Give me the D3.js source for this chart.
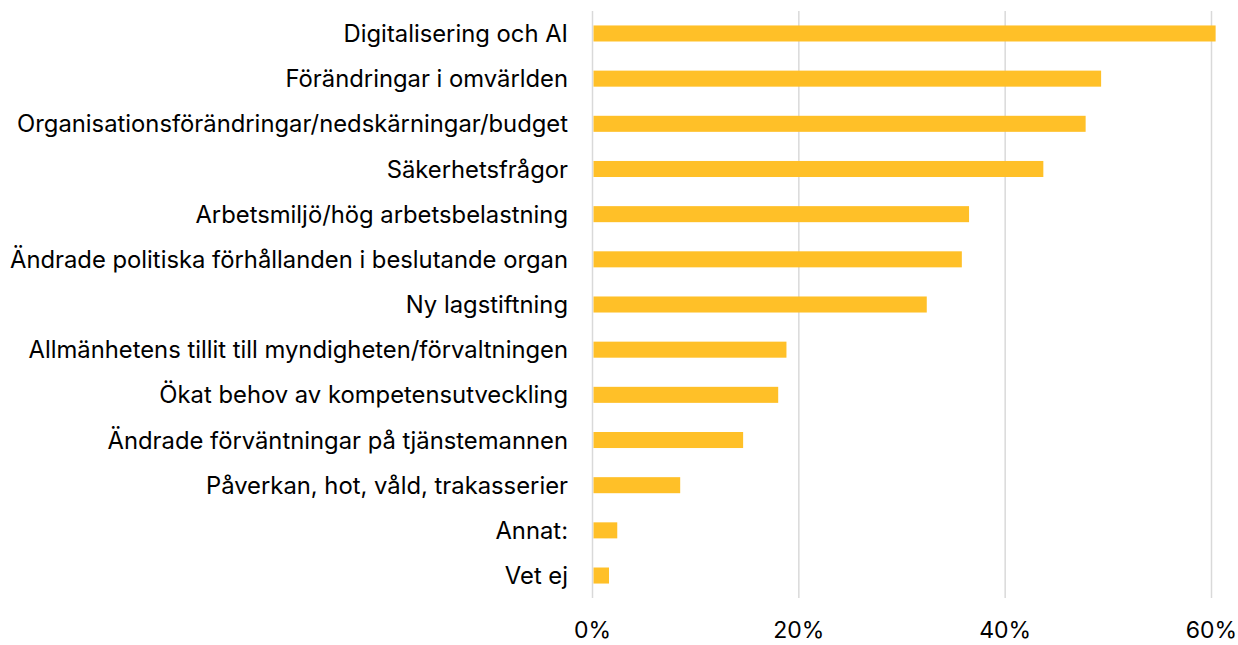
<!DOCTYPE html>
<html>
<head>
<meta charset="utf-8">
<script src="https://cdn.jsdelivr.net/npm/d3@7"></script>
<style>
  body { margin: 0; background: #fff; }
  text { font-family: Inter, "Liberation Sans", Arial, sans-serif; fill: #000; }
</style>
</head>
<body>
<svg id="chart"></svg>
<script>
const width = 1238;
const height = 645;

const categories = [
  "Digitalisering och AI",
  "Förändringar i omvärlden",
  "Organisationsförändringar/nedskärningar/budget",
  "Säkerhetsfrågor",
  "Arbetsmiljö/hög arbetsbelastning",
  "Ändrade politiska förhållanden i beslutande organ",
  "Ny lagstiftning",
  "Allmänhetens tillit till myndigheten/förvaltningen",
  "Ökat behov av kompetensutveckling",
  "Ändrade förväntningar på tjänstemannen",
  "Påverkan, hot, våld, trakasserier",
  "Annat:",
  "Vet ej"
];
const values = [60.4, 49.3, 47.8, 43.7, 36.5, 35.8, 32.4, 18.8, 18.0, 14.6, 8.5, 2.4, 1.6];
const ticks = [0, 20, 40, 60];

const margin = { top: 11, right: 26, bottom: 47, left: 592.5 };

const svg = d3.select("#chart")
  .attr("width", width)
  .attr("height", height);

const x = d3.scaleLinear()
  .domain([0, 60])
  .range([margin.left, margin.left + 619]);

const y = d3.scaleBand()
  .domain(categories)
  .range([margin.top, height - margin.bottom])
  .paddingInner(0.645)
  .paddingOuter(0.32);

// gridlines
svg.append("g")
  .selectAll("line")
  .data(ticks)
  .join("line")
  .attr("x1", d => x(d))
  .attr("x2", d => x(d))
  .attr("y1", margin.top)
  .attr("y2", height - margin.bottom)
  .attr("stroke", "#d9d9d9")
  .attr("stroke-width", 1.5);

// bars
svg.append("g")
  .selectAll("rect")
  .data(values)
  .join("rect")
  .attr("x", x(0) + 1)
  .attr("y", (d, i) => y(categories[i]))
  .attr("width", d => x(d) - x(0) - 1)
  .attr("height", y.bandwidth())
  .attr("fill", "#ffc028");

// category labels
svg.append("g")
  .selectAll("text")
  .data(categories)
  .join("text")
  .attr("x", 568)
  .attr("y", d => y(d) + y.bandwidth() / 2)
  .attr("dy", "0.36em")
  .attr("text-anchor", "end")
  .style("font-size", "23.8px")
  .text(d => d);

// x tick labels (kept just inside the bottom edge)
svg.append("g")
  .selectAll("text")
  .data(ticks)
  .join("text")
  .attr("x", d => x(d))
  .attr("y", 638)
  .attr("text-anchor", "middle")
  .style("font-size", "23px")
  .text(d => d + "%");
</script>
</body>
</html>
